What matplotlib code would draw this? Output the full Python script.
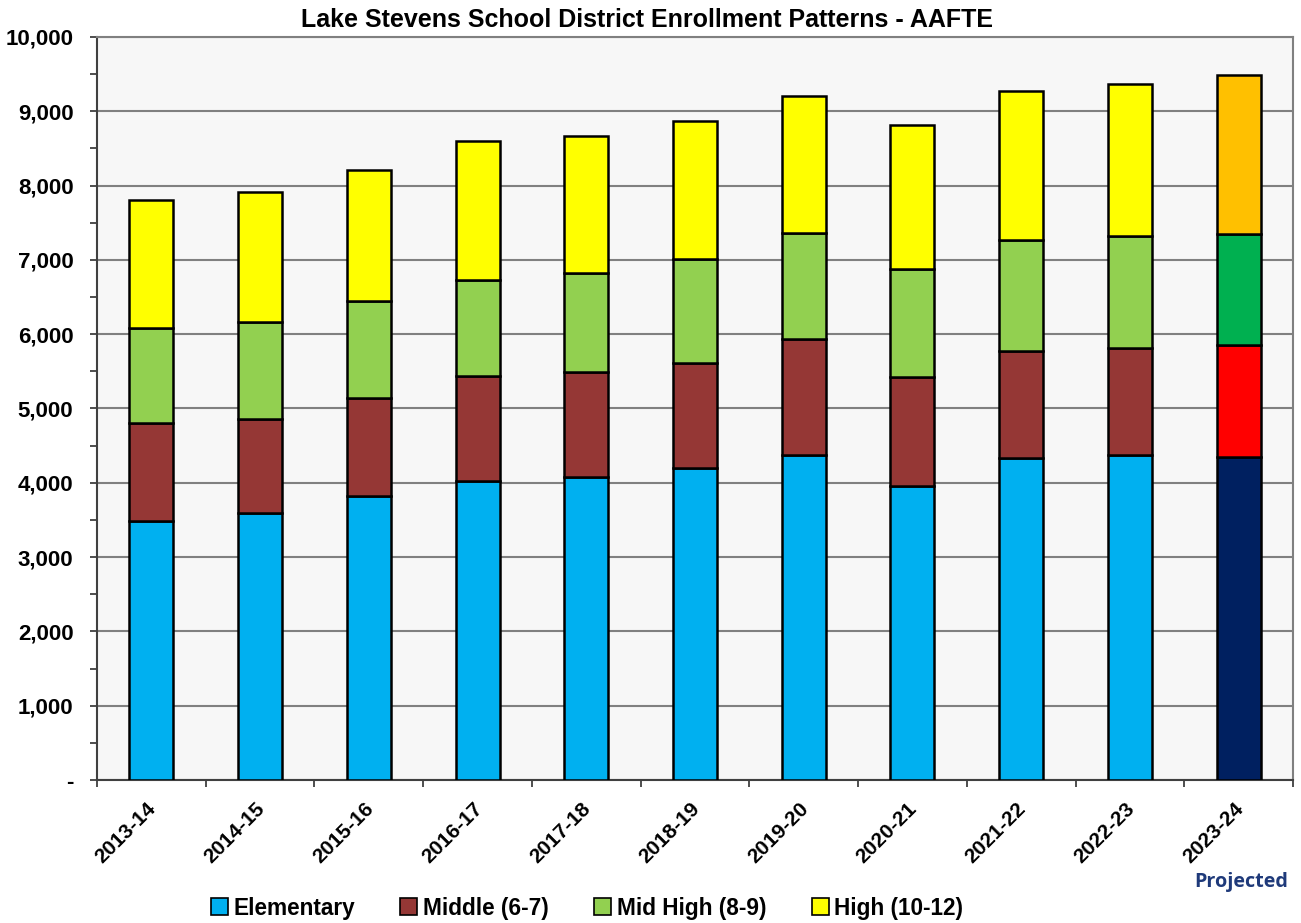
import matplotlib
matplotlib.use('Agg')
import matplotlib.pyplot as plt
import matplotlib.transforms as mtransforms
import numpy as np
from matplotlib.ticker import MultipleLocator, FuncFormatter
from matplotlib.patches import Patch

# ── data ─────────────────────────────────────────────────────
years = ['2013-14', '2014-15', '2015-16', '2016-17', '2017-18', '2018-19',
         '2019-20', '2020-21', '2021-22', '2022-23', '2023-24']
elementary = [3486, 3594, 3822, 4024, 4078, 4199, 4374, 3957, 4334, 4374, 4347]
middle     = [1319, 1265, 1319, 1413, 1413, 1413, 1561, 1467, 1440, 1440, 1508]
mid_high   = [1278, 1305, 1306, 1292, 1333, 1400, 1427, 1453, 1494, 1508, 1494]
high       = [1723, 1750, 1763, 1871, 1843, 1857, 1844, 1939, 2005, 2045, 2140]

series_names = ['Elementary', 'Middle (6-7)', 'Mid High (8-9)', 'High (10-12)']
colors_actual    = ['#00B0F0', '#953735', '#92D050', '#FFFF00']
colors_projected = ['#002060', '#FF0000', '#00B050', '#FFC000']

plt.rcParams['font.family'] = ['Liberation Sans', 'DejaVu Sans']
plt.rcParams['font.weight'] = 'bold'

fig = plt.figure(figsize=(13.01, 9.23), dpi=100)
ax = fig.add_axes([97/1301, 1 - 780/923, (1293-97)/1301, (780-37)/923])
ax.set_facecolor('#f7f7f7')

x = np.arange(len(years))
n_proj = 1  # last year is a projection, drawn in darker colours
bottom = np.zeros(len(years))
for vals, ca, cp in zip([elementary, middle, mid_high, high], colors_actual, colors_projected):
    vals = np.array(vals, dtype=float)
    cols = [ca] * (len(years) - n_proj) + [cp] * n_proj
    ax.bar(x, vals, 0.405, bottom=bottom, color=cols, edgecolor='black',
           linewidth=1.8, zorder=3)
    bottom += vals

ax.set_xlim(-0.5, len(years) - 0.5)
ax.set_ylim(0, 10000)
ax.yaxis.set_major_locator(MultipleLocator(1000))
ax.yaxis.set_minor_locator(MultipleLocator(500))
ax.yaxis.set_major_formatter(FuncFormatter(lambda v, p: '-' if v == 0 else f'{v:,.0f}'))
ax.grid(axis='y', which='major', color='#808080', linewidth=1.5, zorder=1)

ax.set_xticks(x)
ax.set_xticklabels(years, rotation=45, ha='right', rotation_mode='anchor',
                   fontsize=15, fontweight='bold')
ax.set_xticks(np.arange(-0.5, len(years)), minor=True)
ax.tick_params(axis='x', which='major', length=0, pad=10)
ax.tick_params(axis='x', which='minor', length=5, width=1.3, color='#404040')
ax.tick_params(axis='y', which='major', length=5, width=1.3, color='#404040',
               labelsize=16, pad=12)
ax.tick_params(axis='y', which='minor', length=5, width=1.3, color='#404040')
for lab in ax.get_yticklabels():
    lab.set_fontweight('bold')
shift = mtransforms.ScaledTranslation(-5/100, -5/100, fig.dpi_scale_trans)
for lab in ax.get_xticklabels():
    lab.set_transform(lab.get_transform() + shift)

for s in ['left', 'bottom']:
    ax.spines[s].set_color('#404040')
    ax.spines[s].set_linewidth(1.5)
for s in ['top', 'right']:
    ax.spines[s].set_color('#808080')
    ax.spines[s].set_linewidth(1.5)

fig.text(647/1301, 1 - 20/923, 'Lake Stevens School District Enrollment Patterns - AAFTE',
         ha='center', va='center', fontsize=18, fontweight='bold')

handles = [Patch(facecolor=c, edgecolor='black', linewidth=1.2) for c in colors_actual]
fig.legend(handles, series_names, loc='center', bbox_to_anchor=(587/1301, 1 - 908/923),
           ncol=4, frameon=False, handlelength=0.75, handleheight=0.75,
           handletextpad=0.25, columnspacing=2.0, prop={'weight': 'bold', 'size': 16.3})

fig.text(1288/1301, 1 - 882/923, 'Projected', ha='right', va='center',
         fontsize=14.2, fontweight='bold', color='#1F3A7A', family='Open Sans')

fig.savefig('out.png', dpi=100)
